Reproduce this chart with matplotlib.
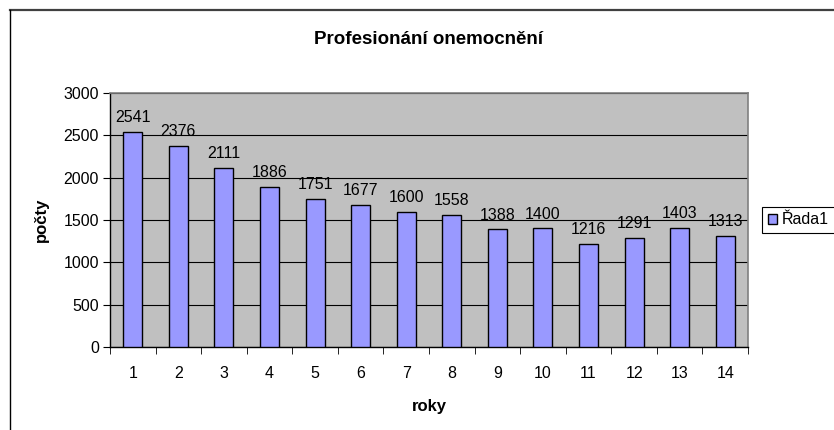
import matplotlib
matplotlib.use("Agg")
import matplotlib.pyplot as plt
from matplotlib.lines import Line2D
import numpy as np

plt.rcParams['font.family'] = ['Liberation Sans', 'DejaVu Sans']

categories = ["1", "2", "3", "4", "5", "6", "7", "8", "9", "10", "11", "12", "13", "14"]
values = [2541, 2376, 2111, 1886, 1751, 1677, 1600, 1558, 1388, 1400, 1216, 1291, 1403, 1313]
series_name = "Řada1"
title = "Profesionání onemocnění"
xlabel = "roky"
ylabel = "počty"
yticks = [0, 500, 1000, 1500, 2000, 2500, 3000]

W, H = 834, 430
fig = plt.figure(figsize=(W / 100, H / 100), dpi=100)
fig.patch.set_facecolor("white")

def px(x0, y0, x1, y1):
    return [x0 / W, 1 - y1 / H, (x1 - x0) / W, (y1 - y0) / H]

FS = 11.5

ax = fig.add_axes(px(110, 93, 748, 347))
ax.set_facecolor("#C0C0C0")

x = np.arange(1, len(values) + 1)
bars = ax.bar(x, values, width=0.42, color="#9999FF", edgecolor="black",
              linewidth=1.0, label=series_name, zorder=3)
for xi, v in zip(x, values):
    ax.annotate(str(v), (xi, v), xytext=(0, 5), textcoords="offset points",
                ha="center", va="bottom", fontsize=FS, zorder=4)

ax.set_xlim(0.5, len(values) + 0.5)
ax.set_ylim(0, 3000)
ax.set_yticks(yticks)
ax.set_yticklabels([str(t) for t in yticks], fontsize=FS)
ax.yaxis.grid(True, color="black", linewidth=0.8, zorder=1)
ax.set_axisbelow(True)

ax.set_xticks(x)
ax.set_xticklabels(categories, fontsize=FS)
ax.set_xticks(np.arange(0.5, len(values) + 1, 1), minor=True)
ax.tick_params(axis="x", which="major", length=0, pad=14)
ax.tick_params(axis="x", which="minor", length=5, direction="out", color="black")
ax.tick_params(axis="y", length=5, direction="out", pad=3, color="black")

for s in ["top", "right"]:
    ax.spines[s].set_color("#808080")
    ax.spines[s].set_linewidth(1.2)
for s in ["left", "bottom"]:
    ax.spines[s].set_color("black")
    ax.spines[s].set_linewidth(1.0)

fig.text(428 / W, 1 - 39 / H, title, ha="center", va="center",
         fontsize=13.5, fontweight="bold")
fig.text(41 / W, 1 - 220 / H, ylabel, ha="center", va="center",
         fontsize=12, fontweight="bold", rotation=90)
fig.text(429 / W, 1 - 406 / H, xlabel, ha="center", va="center",
         fontsize=12, fontweight="bold")

leg = fig.legend(handles=[bars], labels=[series_name], loc="center left",
                 bbox_to_anchor=(762 / W, 1 - 220 / H), fontsize=FS,
                 fancybox=False, framealpha=1, edgecolor="black",
                 handlelength=0.6, handleheight=0.6, handletextpad=0.3,
                 borderpad=0.35, borderaxespad=0)
leg.get_frame().set_linewidth(0.8)

# outer chart border (top and left visible)
fig.add_artist(Line2D([10 / W, 1.0], [1 - 10 / H, 1 - 10 / H], color="#404040",
                      linewidth=1.6, transform=fig.transFigure))
fig.add_artist(Line2D([10 / W, 10 / W], [1 - 10 / H, 0.0], color="black",
                      linewidth=1.0, transform=fig.transFigure))

fig.savefig("out.png", dpi=100)
